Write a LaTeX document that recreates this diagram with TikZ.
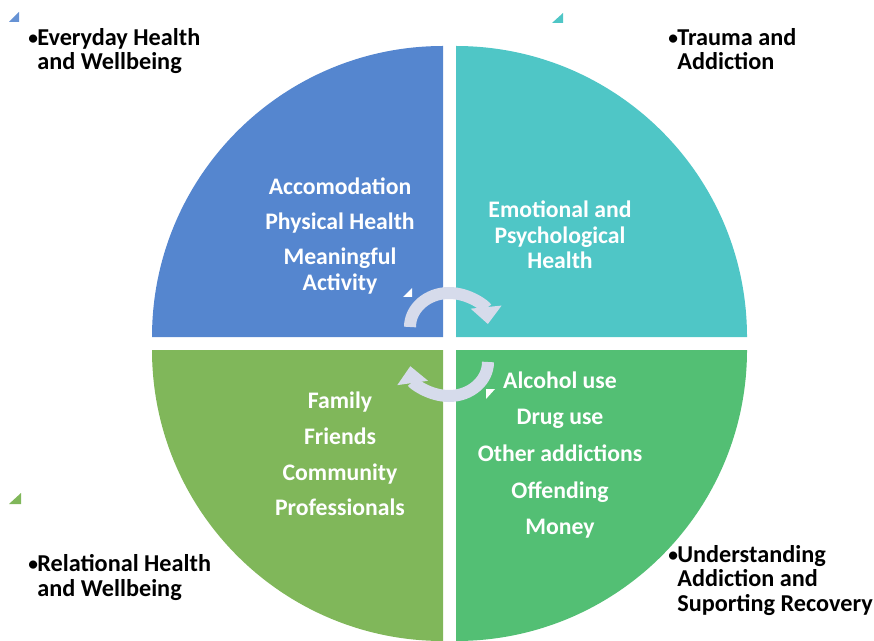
\documentclass[tikz,border=0pt]{standalone}
\usepackage{fontspec}
\setmainfont{Carlito}
\usepackage{tikz}
\usetikzlibrary{arrows.meta,positioning,calc}
\definecolor{quadblue}{RGB}{85,134,207}
\definecolor{quadteal}{RGB}{79,198,198}
\definecolor{quadgreen}{RGB}{128,183,90}
\definecolor{quadmint}{RGB}{83,191,116}
\definecolor{cyclegrey}{RGB}{214,219,235}
\tikzstyle{quadtext} = [text=white, font=\bfseries\fontsize{13.5}{14.5}\selectfont, align=center, inner sep=0pt]
\tikzstyle{label} = [text=black, font=\bfseries\fontsize{13.8}{14}\selectfont, align=left, inner sep=0pt, anchor=north west]
\tikzstyle{cyclearrow} = [cyclegrey, line width=0.24cm, -{Triangle[length=0.34cm,width=0.6cm]}]
\newcommand{\bul}{\makebox[5.1pt][l]{\raisebox{0.6pt}{\scalebox{0.8}{\textbullet}}}}
\newcommand{\hang}{\hspace*{5.1pt}}

\begin{document}
\begin{tikzpicture}[x=0.02cm, y=0.02cm]
        \useasboundingbox (0,0) rectangle (874,-641);
        % four quarters of the circle
        \fill[quadblue] (443,-337) -- ++(-291,0) arc (180:90:291) -- cycle;
        \fill[quadteal] (456,-337) -- ++(0,291) arc (90:0:291) -- cycle;
        \fill[quadgreen] (443,-350) -- ++(0,-291) arc (270:180:291) -- cycle;
        \fill[quadmint] (456,-350) -- ++(291,0) arc (0:-90:291) -- cycle;
        % cycle arrows in the middle
        \coordinate (ctop) at (449,-327);
        \coordinate (cbot) at (449,-362);
        \draw[cyclearrow] ($(ctop)+(180:39 and 34)$) arc (180:5:39 and 34);
        \draw[cyclearrow] ($(cbot)+(0:39 and 34)$) arc (0:-173:39 and 34);
        % small marks
        \fill[quadblue!90!white] (9,-22) -- (19,-22) -- (19,-12) -- cycle;
        \fill[quadteal] (552,-23) -- (563,-23) -- (563,-13) -- cycle;
        \fill[quadgreen] (9,-504) -- (21,-504) -- (21,-493) -- cycle;
        \fill[white] (403,-297) -- (412,-297) -- (412,-288) -- cycle;
        \fill[white] (486,-389) -- (495,-389) -- (486,-399) -- cycle;
        % texts in the quarters
        \node[quadtext] (everyday) at (340,-236) {Accomodation\\[5.5pt]Physical Health\\[5.5pt]Meaningful\\Activity};
        \node[quadtext] (trauma) at (560,-235) {Emotional and\\Psychological\\Health};
        \node[quadtext] (relational) at (340,-454) {Family\\[5.8pt]Friends\\[5.8pt]Community\\[5.8pt]Professionals};
        \node[quadtext] (recovery) at (560,-455) {Alcohol use\\[6.3pt]Drug use\\[6.3pt]Other addictions\\[6.3pt]Offending\\[6.3pt]Money};
        % outer labels
        \node[label] (everydaylabel) at (28,-28) {\bul Everyday Health\\\hang and Wellbeing};
        \node[label] (traumalabel) at (668,-28) {\bul Trauma and\\\hang Addiction};
        \node[label] (relationallabel) at (28,-554) {\bul Relational Health\\\hang and Wellbeing};
        \node[label] (recoverylabel) at (668,-545) {\bul Understanding\\\hang Addiction and\\\hang Suporting Recovery};
        \end{tikzpicture}
\end{document}
